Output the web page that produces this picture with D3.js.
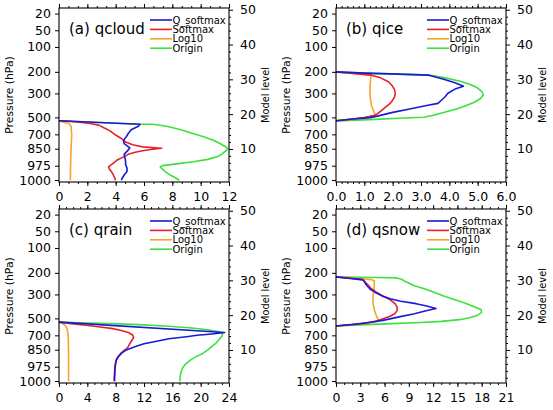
<!DOCTYPE html>
<html>
<head>
<meta charset="utf-8">
<script src="https://cdn.jsdelivr.net/npm/d3@7"></script>
<style>
  body { margin: 0; background: #fff; }
  text { font-family: "DejaVu Sans", sans-serif; fill: #000; }
</style>
</head>
<body>
<svg id="chart" width="553" height="410"></svg>
<script>
// left axis: pressure labels placed at the model level they belong to
const pressureLabels = [20, 50, 100, 200, 300, 500, 700, 850, 975, 1000];
const pressureLevels = [48.9, 44.1, 39.3, 32.15, 25.95, 19.07, 14.19, 10.06, 5.18, 1.07];
// right axis
const modelLevelTicks = [10, 20, 30, 40, 50];
const modelLevelMinor = [2, 4, 6, 8, 12, 14, 16, 18, 22, 24, 26, 28, 32, 34, 36, 38, 42, 44, 46, 48];

const seriesNames = ['Q_softmax', 'Softmax', 'Log10', 'Origin'];
const seriesColors = ['#1a1ad6', '#e8202a', '#f5a52a', '#3ee03e'];

// profiles, each point is [model level, value]
const qcloudQsoftmax = [[18.1,0],[17.1,5.72],[16.5,5.6],[15.5,5.1],[14.5,4.9],[13.5,4.75],[12.5,4.55],[11.5,4.6],[10.3,5.0],[9.3,4.8],[8.5,4.6],[7.5,4.65],[6.5,4.7],[5.5,4.7],[4.5,4.8],[3.5,4.8],[2.5,4.6],[1.5,4.45],[1,4.4]];
const qcloudSoftmax = [[18.1,0],[17.8,1.1],[17.3,2.2],[16.85,2.8],[16,3.2],[15.2,3.6],[14,4.0],[13,4.4],[12,4.7],[11.2,5.2],[10.6,5.9],[10.2,7.25],[9.9,6.6],[9.5,5.9],[9,5.3],[8.5,4.9],[7.8,4.6],[6.8,4.1],[5.8,3.8],[4.9,3.5],[4.2,3.55],[3.5,3.7],[2.8,3.8],[2,3.9],[1,4.0]];
const qcloudLog10 = [[18.1,0],[17.6,0.4],[17.3,0.7],[16.5,0.85],[14,0.9],[10,0.85],[6,0.82],[1,0.8]];
const qcloudOrigin = [[18.1,0],[17.1,5.72],[17.1,6.6],[16.5,7.6],[15.5,8.6],[14.5,9.4],[13.5,10.2],[12.5,10.9],[11.5,11.4],[10.5,11.8],[10.1,11.9],[9.5,11.8],[8.5,11.5],[7.8,11.2],[7,10.5],[6.3,9.5],[5.7,8.3],[5.2,7.3],[4.8,7.15],[4.2,7.3],[3.5,7.5],[2.5,7.85],[1.5,8.3],[1,8.5]];

const qiceQsoftmax = [[32.15,0],[31.8,1.0],[31.5,2.2],[31.2,3.28],[30,3.8],[29,4.2],[28.0,4.5],[27.2,4.2],[26,3.95],[25,3.85],[24,3.72],[23.1,3.6],[22.5,3.2],[21.5,2.6],[20.5,2.0],[19.5,1.5],[19,1.2],[18.6,0.6],[18.1,0]];
const qiceSoftmax = [[32.15,0],[31.7,0.6],[31.2,1.25],[30.5,1.55],[29.3,1.85],[28,2.0],[27,2.07],[26,2.09],[25,2.07],[24,2.0],[23,1.9],[22,1.75],[21,1.6],[20,1.45],[19.5,1.3],[19,1.0],[18.6,0.6],[18.1,0]];
const qiceLog10 = [[32.15,0],[31.7,0.6],[31.2,1.25],[30,1.22],[28,1.2],[26,1.2],[24,1.22],[22.5,1.25],[21,1.32],[19.7,1.4],[19,1.0],[18.6,0.6],[18.1,0]];
const qiceOrigin = [[32.15,0],[31.8,1.0],[31.5,2.2],[31.2,3.28],[30.5,3.8],[29.5,4.35],[28.5,4.75],[27.5,5.0],[26.5,5.15],[25.5,5.2],[24.5,5.1],[23.5,4.9],[22.5,4.6],[21.5,4.25],[20.5,3.8],[19.6,3.4],[19.1,3.1],[18.8,2.2],[18.5,1.4],[18.2,0.5],[18.0,0]];

const qrainQsoftmax = [[18.0,0],[15.0,23.4],[14.6,21.6],[14.2,19.5],[13.8,18.0],[13.2,15.5],[12.5,13.8],[11.8,12.0],[11,10.8],[10,9.5],[9,8.8],[8,8.35],[7,8.1],[5.5,7.95],[4,7.9],[2,7.85],[1,7.85]];
const qrainSoftmax = [[18.0,0],[17.5,2.0],[17.0,4.1],[16.6,5.8],[16.2,7.4],[15.6,8.8],[15.0,9.8],[14.3,10.4],[13.6,10.55],[12.8,10.3],[11.8,10.0],[11,9.8],[10.4,9.55],[9.7,9.1],[9,8.7],[8,8.3],[7,8.05],[5.5,7.9],[4,7.85],[2,7.8],[1,7.8]];
const qrainLog10 = [[18,0],[17.6,0.5],[17.0,0.9],[16.3,1.1],[15.5,1.2],[14,1.3],[10,1.35],[5,1.35],[1,1.35]];
const qrainOrigin = [[18.0,0],[17.8,3],[17.5,8.5],[17.2,12],[16.8,15.5],[16.3,18.8],[15.8,21.0],[15.2,22.6],[14.6,23.1],[14.0,23.0],[13,22.6],[12,22.2],[11,21.6],[10,21.0],[9,20.3],[8,19.3],[7,18.5],[6,17.9],[5,17.5],[4,17.3],[3,17.15],[2,17.1],[1,17.05]];

const qsnowQsoftmax = [[31.0,0],[30.6,1.5],[30.2,3.0],[30.0,3.4],[29.2,3.6],[28.5,3.8],[27.5,4.2],[26.6,4.8],[25.6,5.6],[24.7,6.7],[24.0,8.0],[23.3,9.9],[22.6,11.2],[21.9,12.35],[21.2,11.0],[20.4,9.7],[19.5,7.8],[18.5,5.8],[17.8,3.8],[17.3,2.0],[16.9,0]];
const qsnowSoftmax = [[31.0,0],[30.6,1.8],[30.3,3.3],[29.5,3.6],[28.8,3.9],[27.5,4.4],[26.6,5.0],[25.5,5.8],[24.4,6.7],[23.3,7.3],[22.3,7.55],[21.3,7.55],[20.4,7.25],[19.6,6.6],[19,5.9],[18.3,5.0],[17.9,4.2],[17.5,3.0],[17.2,1.5],[16.9,0]];
const qsnowLog10 = [[31.0,0],[30.6,2.0],[30.4,3.5],[30.2,4.4],[29.8,4.75],[29,4.72],[27.5,4.7],[26,4.6],[24.5,4.55],[23,4.6],[21.5,4.75],[20,4.95],[18.8,5.2],[18.2,5.1],[17.8,4.0],[17.4,2.5],[16.9,0]];
const qsnowOrigin = [[31.0,0],[30.9,2.5],[30.8,5],[30.7,7.5],[30.3,8.1],[29.5,8.7],[28.5,9.6],[27.5,11.0],[26.5,12.2],[25.5,13.3],[24.5,14.6],[23.5,15.9],[22.5,17.0],[21.6,17.9],[20.8,18.0],[20.0,17.5],[19.3,16.6],[18.7,15.3],[18.2,13.0],[17.9,10.5],[17.5,6.0],[17.2,3.0],[16.9,0]];

const panels = [
  {title: '(a) qcloud', left: 59, top: 8, xMax: 12, step: 2, minorPer: 3, fmt: d3.format('d'),
   series: [qcloudQsoftmax, qcloudSoftmax, qcloudLog10, qcloudOrigin]},
  {title: '(b) qice', left: 336, top: 8, xMax: 6, step: 1, minorPer: 5, fmt: d3.format('.1f'),
   series: [qiceQsoftmax, qiceSoftmax, qiceLog10, qiceOrigin]},
  {title: '(c) qrain', left: 59, top: 209, xMax: 24, step: 4, minorPer: 4, fmt: d3.format('d'),
   series: [qrainQsoftmax, qrainSoftmax, qrainLog10, qrainOrigin]},
  {title: '(d) qsnow', left: 336, top: 209, xMax: 21, step: 3, minorPer: 3, fmt: d3.format('d'),
   series: [qsnowQsoftmax, qsnowSoftmax, qsnowLog10, qsnowOrigin]}
];

const width = 170;
const height = 174;
const svg = d3.select('#chart');

panels.forEach(p => {
  const g = svg.append('g').attr('transform', `translate(${p.left},${p.top})`);

  const x = d3.scaleLinear().domain([0, p.xMax]).range([0, width]);
  const y = d3.scaleLinear().domain([0.5, 50.5]).range([height, 0]);

  const nMajor = Math.round(p.xMax / p.step);
  const majors = d3.range(nMajor + 1).map(i => i * p.step);
  const minors = d3.range(nMajor * p.minorPer + 1).map(i => i * p.xMax / (nMajor * p.minorPer));

  // curves, origin first so Q_softmax ends up on top
  const line = d3.line().x(d => x(d[1])).y(d => y(d[0]));
  [3, 2, 1, 0].forEach(i => {
    g.append('path')
      .attr('d', line(p.series[i]))
      .attr('fill', 'none')
      .attr('stroke', seriesColors[i])
      .attr('stroke-width', 1.6)
      .attr('stroke-linejoin', 'round');
  });

  // bottom axis
  g.append('g')
    .attr('transform', `translate(0,${height})`)
    .call(d3.axisBottom(x).tickValues(minors).tickSize(2).tickFormat(''));
  const bottom = g.append('g')
    .attr('transform', `translate(0,${height})`)
    .call(d3.axisBottom(x).tickValues(majors).tickSize(4).tickPadding(6).tickFormat(p.fmt));
  // top axis, mirrored ticks only
  g.append('g')
    .call(d3.axisTop(x).tickValues(minors).tickSize(2).tickFormat(''));
  g.append('g')
    .call(d3.axisTop(x).tickValues(majors).tickSize(4).tickFormat(''));

  // left axis: pressure
  const left = g.append('g')
    .call(d3.axisLeft(y).tickValues(pressureLevels).tickSize(4).tickPadding(4)
      .tickFormat((d, i) => pressureLabels[i]));

  // right axis: model level
  g.append('g')
    .attr('transform', `translate(${width},0)`)
    .call(d3.axisRight(y).tickValues(modelLevelMinor).tickSize(2).tickFormat(''));
  const right = g.append('g')
    .attr('transform', `translate(${width},0)`)
    .call(d3.axisRight(y).tickValues(modelLevelTicks).tickSize(4).tickPadding(7));

  g.selectAll('.domain').remove();
  g.selectAll('.tick line').attr('stroke', '#000');
  [bottom, left, right].forEach(a => a.selectAll('text')
    .style('font-family', '"DejaVu Sans", sans-serif')
    .style('font-size', '12.5px')
    .attr('fill', '#000'));

  // frame
  g.append('rect')
    .attr('width', width)
    .attr('height', height)
    .attr('fill', 'none')
    .attr('stroke', '#000')
    .attr('stroke-width', 1.1);

  // title
  g.append('text')
    .attr('x', 10)
    .attr('y', 25.5)
    .style('font-size', '15px')
    .text(p.title);

  // legend
  seriesNames.forEach((name, i) => {
    const ly = 12 + i * 9.4;
    g.append('line')
      .attr('x1', 91).attr('x2', 113)
      .attr('y1', ly).attr('y2', ly)
      .attr('stroke', seriesColors[i])
      .attr('stroke-width', 1.6);
    g.append('text')
      .attr('x', 113.5)
      .attr('y', ly + 3.6)
      .style('font-size', '10px')
      .text(name);
  });

  // axis titles
  g.append('text')
    .attr('transform', `translate(-46,${height / 2}) rotate(-90)`)
    .attr('text-anchor', 'middle')
    .style('font-size', '10.8px')
    .text('Pressure (hPa)');
  g.append('text')
    .attr('transform', `translate(${width + 40},${height / 2}) rotate(-90)`)
    .attr('text-anchor', 'middle')
    .style('font-size', '9.8px')
    .text('Model level');
});
</script>
</body>
</html>
